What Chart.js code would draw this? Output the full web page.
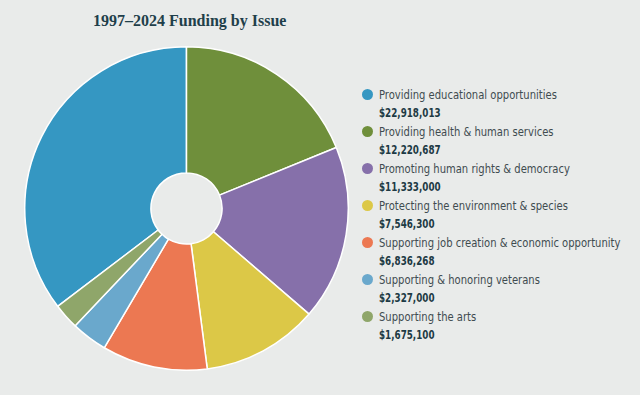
<!DOCTYPE html>
<html>
<head>
<meta charset="utf-8">
<script src="https://cdn.jsdelivr.net/npm/chart.js@4.4.1/dist/chart.umd.min.js"></script>
<style>
  html, body { margin:0; padding:0; background:#e9ebea; }
  #wrap { position:relative; width:640px; height:395px; background:#e9ebea; overflow:hidden; }
  #title { position:absolute; left:93px; top:12px; font-family:"Liberation Serif", serif; font-weight:bold; font-size:16px; color:#1f3f4a; white-space:nowrap; }
  #pie { position:absolute; left:24px; top:46px; width:325px; height:325px; }
  #legend { position:absolute; left:362px; top:87px; }
  .item { position:relative; height:37px; }
  .dot { position:absolute; left:0; top:2px; width:11px; height:11px; border-radius:50%; }
  .lab { position:absolute; left:17px; top:0px; font-family:"DejaVu Sans Condensed",sans-serif; font-size:12.5px; color:#3f4b50; white-space:nowrap; transform:scaleX(0.89); transform-origin:0 0; }
  .val { position:absolute; left:17px; top:18px; font-family:"DejaVu Sans Condensed",sans-serif; font-weight:bold; font-size:13px; color:#1d3a44; white-space:nowrap; transform:scaleX(0.75); transform-origin:0 0; }
</style>
</head>
<body>
<div id="wrap">
  <div id="title">1997–2024 Funding by Issue</div>
  <div id="pie"><canvas id="c"></canvas></div>
  <div id="legend"></div>
</div>
<script>
const categories = [
  "Providing educational opportunities",
  "Providing health & human services",
  "Promoting human rights & democracy",
  "Protecting the environment & species",
  "Supporting job creation & economic opportunity",
  "Supporting & honoring veterans",
  "Supporting the arts"
];
const funding = [22918013, 12220687, 11333000, 7546300, 6836268, 2327000, 1675100];
const colors = ["#3597c2", "#6f8f3b", "#8670aa", "#dcc847", "#ec7852", "#6aa8cc", "#8fa66a"];

const total = funding.reduce((a, b) => a + b, 0);
const firstAngle = funding[0] / total * 360;

new Chart(document.getElementById('c'), {
  type: 'doughnut',
  data: {
    labels: categories,
    datasets: [{
      data: funding,
      backgroundColor: colors,
      borderColor: '#ffffff',
      borderWidth: 1.5,
      hoverOffset: 0
    }]
  },
  options: {
    responsive: true,
    maintainAspectRatio: false,
    animation: false,
    cutout: '22%',
    rotation: -firstAngle,
    layout: { padding: 0 },
    plugins: { legend: { display: false }, tooltip: { enabled: false } }
  }
});

const legend = document.getElementById('legend');
categories.forEach((cat, i) => {
  const it = document.createElement('div');
  it.className = 'item';
  const d = document.createElement('div'); d.className = 'dot'; d.style.background = colors[i];
  const l = document.createElement('div'); l.className = 'lab'; l.textContent = cat;
  const v = document.createElement('div'); v.className = 'val'; v.textContent = '$' + funding[i].toLocaleString('en-US');
  it.appendChild(d); it.appendChild(l); it.appendChild(v);
  legend.appendChild(it);
});
</script>
</body>
</html>
